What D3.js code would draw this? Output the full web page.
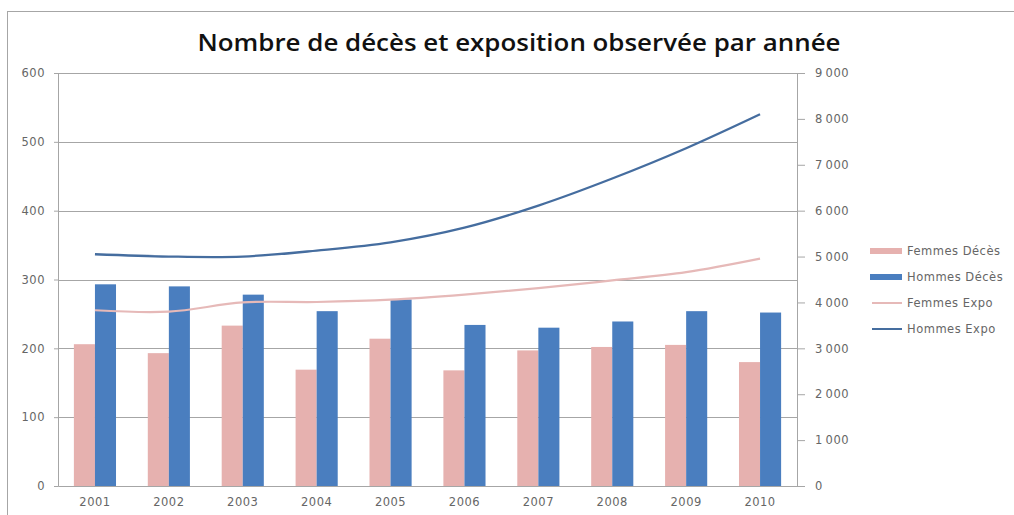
<!DOCTYPE html>
<html>
<head>
<meta charset="utf-8">
<script src="https://cdn.jsdelivr.net/npm/d3@7"></script>
<style>
body { margin: 0; background: #fff; }
svg text { font-family: "DejaVu Sans", sans-serif; }
</style>
</head>
<body>
<svg width="1014" height="515"></svg>
<script>
var years = ["2001","2002","2003","2004","2005","2006","2007","2008","2009","2010"];
var femmesDeces = [206, 193, 233, 169, 214, 168, 197, 202, 205, 180];
var hommesDeces = [293, 290, 278, 254, 271, 234, 230, 239, 254, 252];
var femmesExpo = [3830, 3800, 4000, 4010, 4060, 4170, 4310, 4480, 4660, 4955];
var hommesExpo = [5050, 5000, 5000, 5130, 5310, 5630, 6110, 6700, 7360, 8100];
var leftTicks = [0, 100, 200, 300, 400, 500, 600];
var rightTicks = [0, 1000, 2000, 3000, 4000, 5000, 6000, 7000, 8000, 9000];
var legendNames = ["Femmes Décès", "Hommes Décès", "Femmes Expo", "Hommes Expo"];

var pinkBar = "#e6b1af", blueBar = "#4a7ebf";
var pinkLine = "#e6b9b8", blueLine = "#456d9f";

var svg = d3.select("svg");
var margin = {top: 73, left: 58, right: 217, bottom: 29};
var width = 1014 - margin.left - margin.right;
var height = 515 - margin.top - margin.bottom;

// outer frame
svg.append("rect")
  .attr("x", 7.5).attr("y", 11.5)
  .attr("width", 1020).attr("height", 520)
  .attr("fill", "none").attr("stroke", "#a6a6a6");

svg.append("text")
  .attr("x", 519).attr("y", 51)
  .attr("text-anchor", "middle")
  .attr("font-size", "24px")
  .attr("font-weight", "600")
  .style("font-family", "'Open Sans', sans-serif")
  .attr("textLength", 643)
  .attr("lengthAdjust", "spacingAndGlyphs")
  .attr("fill", "#111")
  .text("Nombre de décès et exposition observée par année");

var g = svg.append("g").attr("transform", "translate(" + margin.left + "," + margin.top + ")");

var x = d3.scaleBand().domain(years).range([0, width]).paddingInner(0.43).paddingOuter(0.215);
var xSub = d3.scaleBand().domain(["f","h"]).range([0, x.bandwidth()]);
var yL = d3.scaleLinear().domain([0, 600]).range([height, 0]);
var yR = d3.scaleLinear().domain([0, 9000]).range([height, 0]);

// gridlines
g.append("g").selectAll("line")
  .data(leftTicks.filter(function(d) { return d > 0; }))
  .enter().append("line")
  .attr("x1", 0).attr("x2", width)
  .attr("y1", function(d) { return Math.round(yL(d)) + 0.5; })
  .attr("y2", function(d) { return Math.round(yL(d)) + 0.5; })
  .attr("stroke", "#a6a6a6");

// bars
var grp = g.append("g").selectAll("g")
  .data(years).enter().append("g")
  .attr("transform", function(d) { return "translate(" + x(d) + ",0)"; });

grp.append("rect")
  .attr("x", xSub("f")).attr("width", xSub.bandwidth())
  .attr("y", function(d, i) { return yL(femmesDeces[i]); })
  .attr("height", function(d, i) { return height - yL(femmesDeces[i]); })
  .attr("fill", pinkBar);

grp.append("rect")
  .attr("x", xSub("h")).attr("width", xSub.bandwidth())
  .attr("y", function(d, i) { return yL(hommesDeces[i]); })
  .attr("height", function(d, i) { return height - yL(hommesDeces[i]); })
  .attr("fill", blueBar);

// lines (right axis)
var line = d3.line()
  .x(function(d, i) { return x(years[i]) + x.bandwidth() / 2; })
  .y(function(d) { return yR(d); })
  .curve(d3.curveCatmullRom);

g.append("path").datum(femmesExpo)
  .attr("d", line).attr("fill", "none")
  .attr("stroke", pinkLine).attr("stroke-width", 2.2);

g.append("path").datum(hommesExpo)
  .attr("d", line).attr("fill", "none")
  .attr("stroke", blueLine).attr("stroke-width", 2.3);

// axes
var leftAxis = d3.axisLeft(yL).tickValues(leftTicks).tickSize(4).tickPadding(10);
var rightAxis = d3.axisRight(yR).tickValues(rightTicks).tickSize(8).tickPadding(10)
  .tickFormat(function(d) { return d3.format(",")(d).replace(",", "\u2009"); });
var bottomAxis = d3.axisBottom(x).tickSize(0).tickPadding(12);

function styleAxis(sel) {
  sel.select(".domain").attr("stroke", "#a6a6a6");
  sel.selectAll(".tick line").attr("stroke", "#a6a6a6");
  sel.selectAll("text")
    .attr("fill", "#666")
    .style("font-size", "11.5px")
    .style("letter-spacing", "0.5px")
    .style("font-family", "'DejaVu Sans', sans-serif");
}

g.append("g").call(leftAxis).call(styleAxis)
  .selectAll(".tick text").attr("x", -13);
g.append("g").attr("transform", "translate(" + width + ",0)").call(rightAxis).call(styleAxis);
g.append("g").attr("transform", "translate(0," + height + ")").call(bottomAxis).call(styleAxis);

// legend
var legend = svg.append("g").attr("transform", "translate(870,251)");
var items = legend.selectAll("g").data(legendNames).enter().append("g")
  .attr("transform", function(d, i) { return "translate(0," + (i * 26) + ")"; });

items.each(function(d, i) {
  var it = d3.select(this);
  if (i < 2) {
    it.append("rect").attr("x", 0).attr("y", -3).attr("width", 32).attr("height", 6)
      .attr("fill", i === 0 ? pinkBar : blueBar);
  } else {
    it.append("line").attr("x1", 2).attr("x2", 32).attr("y1", 0).attr("y2", 0)
      .attr("stroke", i === 2 ? pinkLine : blueLine).attr("stroke-width", 2);
  }
  it.append("text").attr("x", 37).attr("dy", "0.35em")
    .attr("fill", "#666")
    .style("font-size", "11.5px")
    .style("letter-spacing", "0.5px")
    .text(d);
});
</script>
</body>
</html>
